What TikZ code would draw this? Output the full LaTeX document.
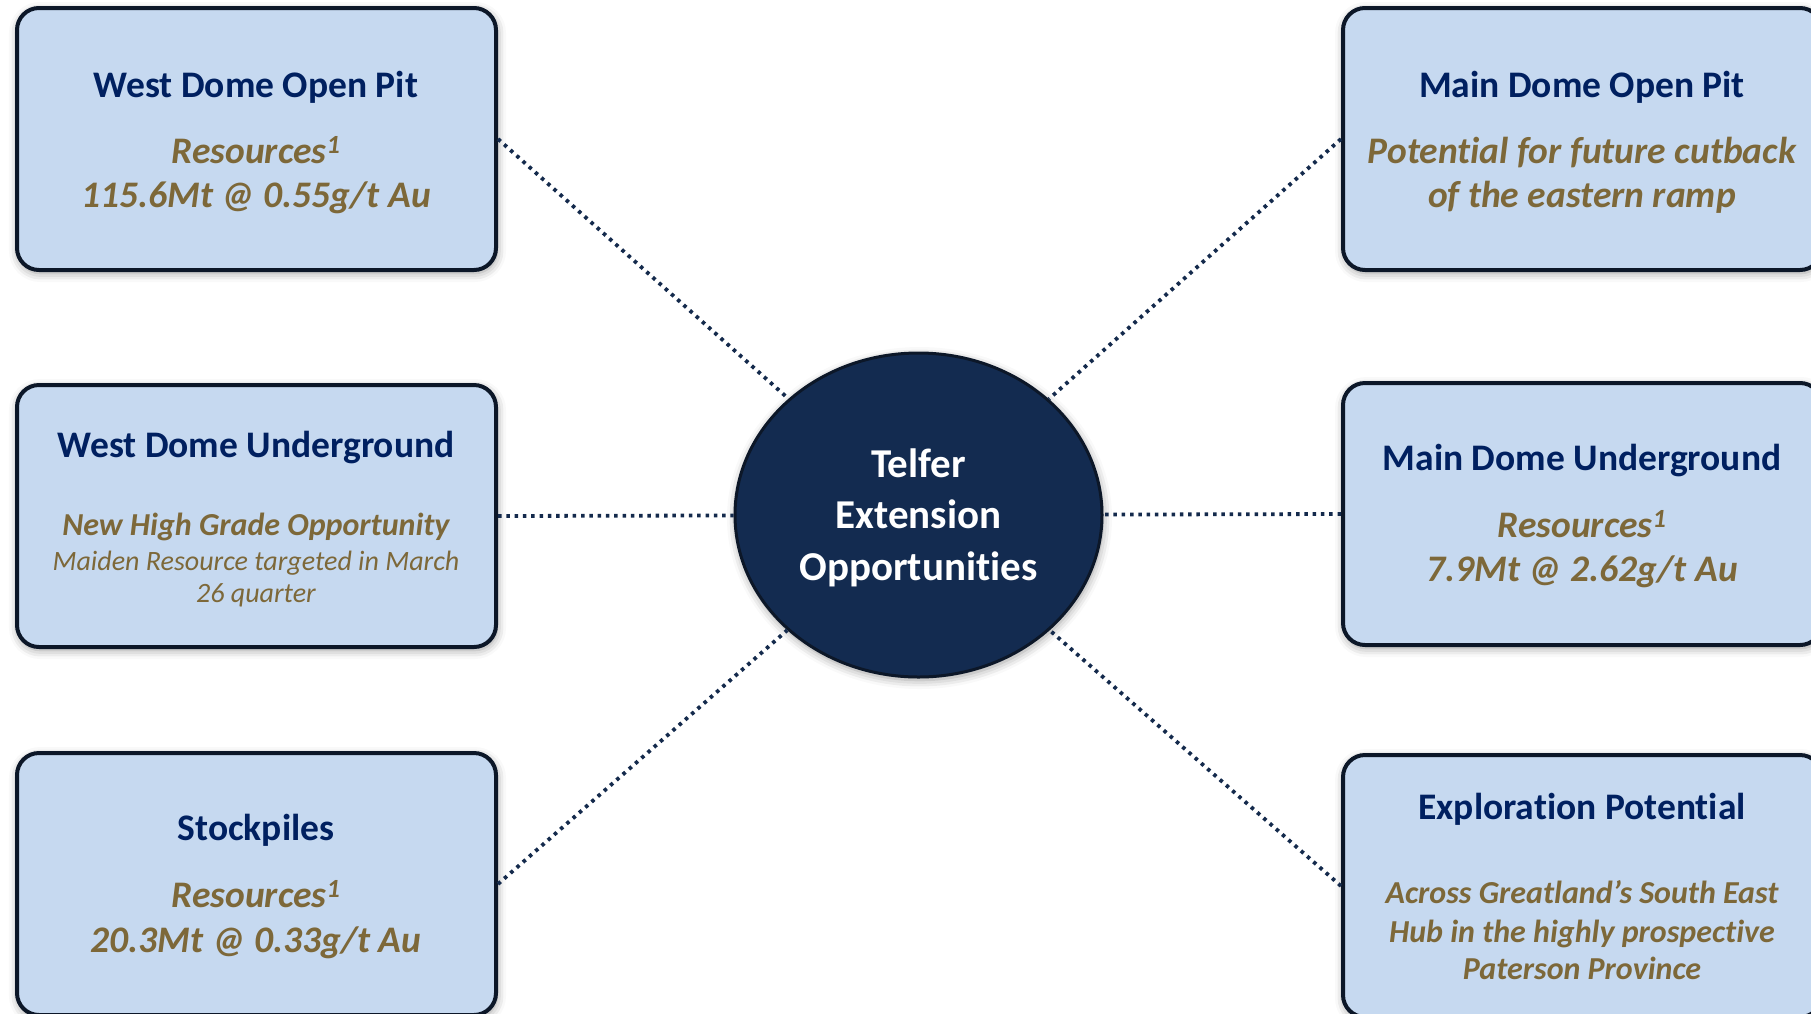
\documentclass[tikz,border=0pt]{standalone}
\usepackage{fontspec}
\setmainfont{Carlito}[Ligatures={NoCommon}]
\usetikzlibrary{shapes.geometric,shadows.blur}
\definecolor{navytxt}{HTML}{002060}
\definecolor{goldtxt}{HTML}{7D6839}
\definecolor{boxfill}{HTML}{C6D9F0}
\definecolor{boxline}{HTML}{0C1728}
\definecolor{ellfill}{HTML}{132B50}
\definecolor{connc}{HTML}{142A4C}
\tikzset{
  card/.style={draw=boxline, line width=4pt, fill=boxfill, rounded corners=22pt,
    minimum width=479pt, minimum height=262pt, inner sep=0pt,
    blur shadow={shadow xshift=1pt, shadow yshift=-3pt, shadow blur radius=9pt, shadow opacity=40}},
  hub/.style={ellipse, draw=boxline, line width=3pt, fill=ellfill, minimum width=367pt,
    minimum height=324pt, inner sep=0pt,
    blur shadow={shadow xshift=1pt, shadow yshift=-3pt, shadow blur radius=9pt, shadow opacity=40}},
  ttl/.style={anchor=base, text=navytxt, font=\fontsize{37.5}{42}\selectfont\bfseries, inner sep=0pt},
  big/.style={anchor=base, text=goldtxt, font=\fontsize{37.5}{42}\selectfont\bfseries\itshape, inner sep=0pt},
  mid/.style={anchor=base, text=goldtxt, font=\fontsize{32}{36}\selectfont\bfseries\itshape, inner sep=0pt},
  sml/.style={anchor=base, text=goldtxt, font=\fontsize{28}{32}\selectfont\itshape, inner sep=0pt},
  hubtxt/.style={anchor=base, text=white, font=\fontsize{41}{46}\selectfont\bfseries, inner sep=0pt},
  conn/.style={draw=connc, line width=3.8pt, dash pattern=on 3.5pt off 4.8pt}
}
\begin{document}
\begin{tikzpicture}[x=1pt,y=-1pt]
\useasboundingbox (0,0) rectangle (1811,1013);
% boxes
\node[card] (wdop) at (256.5,139) {};
\node[card] (wdug) at (256.5,516) {};
\node[card] (stock) at (256.5,884) {};
\node[card] (mdop) at (1582.5,139) {};
\node[card] (mdug) at (1582.5,514) {};
\node[card] (expl) at (1582.5,886) {};
\node[hub] (ctr) at (918.5,515) {};
% connectors
\draw[conn] (wdop.east) -- (ctr);
\draw[conn] (wdug.east) -- (ctr);
\draw[conn] (stock.east) -- (ctr);
\draw[conn] (mdop.west) -- (ctr);
\draw[conn] (mdug.west) -- (ctr);
\draw[conn] (expl.west) -- (ctr);
% hub text
\node[hubtxt] (h1) at (918.5,477) {Telfer};
\node[hubtxt] (h2) at (918.5,528) {Extension};
\node[hubtxt] (h3) at (918.5,580) {Opportunities};
% West Dome Open Pit
\node[ttl] (t1) at (256,97) {West Dome Open Pit};
\node[big] (t1a) at (256,163) {Resources\textsuperscript{1}};
\node[big] (t1b) at (256,207) {115.6Mt @ 0.55g/t Au};
% West Dome Underground
\node[ttl] (t2) at (256,457) {West Dome Underground};
\node[mid] (t2a) at (256,535) {New High Grade Opportunity};
\node[sml] (t2b) at (256,570) {Maiden Resource targeted in March};
\node[sml] (t2c) at (256,602) {26 quarter};
% Stockpiles
\node[ttl] (t3) at (256,840) {Stockpiles};
\node[big] (t3a) at (256,907) {Resources\textsuperscript{1}};
\node[big] (t3b) at (256,952) {20.3Mt @ 0.33g/t Au};
% Main Dome Open Pit
\node[ttl] (t4) at (1582,97) {Main Dome Open Pit};
\node[big] (t4a) at (1582,163) {Potential for future cutback};
\node[big] (t4b) at (1582,207) {of the eastern ramp};
% Main Dome Underground
\node[ttl] (t5) at (1582,470) {Main Dome Underground};
\node[big] (t5a) at (1582,537) {Resources\textsuperscript{1}};
\node[big] (t5b) at (1582,581) {7.9Mt @ 2.62g/t Au};
% Exploration Potential
\node[ttl] (t6) at (1582,819) {Exploration Potential};
\node[mid] (t6a) at (1582,903) {Across Greatland’s South East};
\node[mid] (t6b) at (1582,942) {Hub in the highly prospective};
\node[mid] (t6c) at (1582,979) {Paterson Province};
\end{tikzpicture}
\end{document}
